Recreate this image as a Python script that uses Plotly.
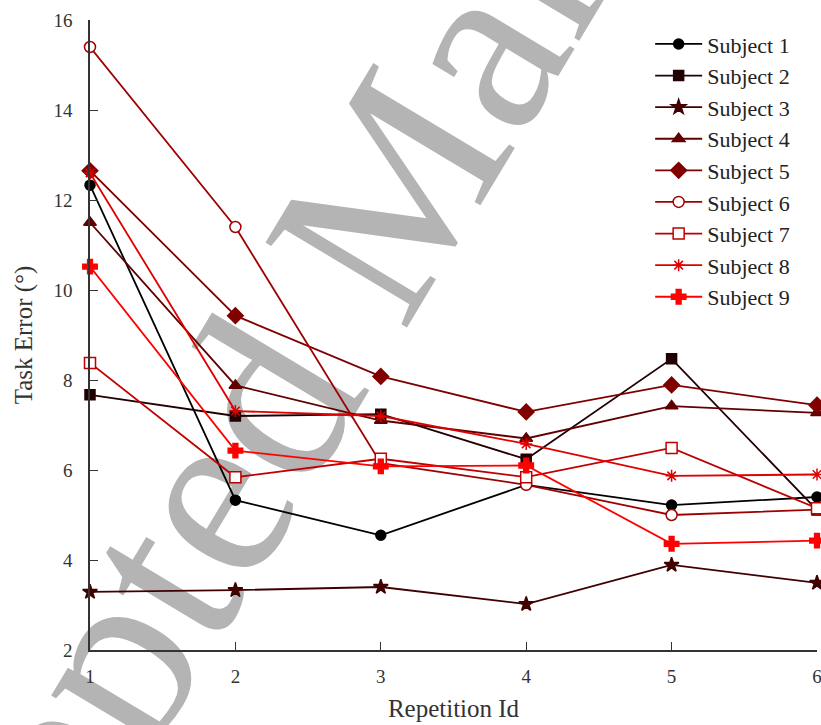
import plotly.graph_objects as go

repetitions = [1, 2, 3, 4, 5, 6]
subjects = ["Subject 1", "Subject 2", "Subject 3", "Subject 4", "Subject 5",
            "Subject 6", "Subject 7", "Subject 8", "Subject 9"]
s1 = [12.33, 5.33, 4.55, 5.67, 5.22, 5.40]
s2 = [7.67, 7.20, 7.24, 6.24, 8.47, 5.11]
s3 = [3.29, 3.33, 3.40, 3.02, 3.89, 3.49]
s4 = [11.50, 7.88, 7.10, 6.70, 7.42, 7.27]
s5 = [12.65, 9.43, 8.08, 7.29, 7.89, 7.44]
s6 = [15.40, 11.40, 6.15, 5.67, 5.00, 5.12]
s7 = [8.38, 5.84, 6.25, 5.84, 6.49, 5.15]
s8 = [12.60, 7.31, 7.20, 6.58, 5.87, 5.90]
s9 = [10.52, 6.43, 6.08, 6.10, 4.36, 4.43]
values = [s1, s2, s3, s4, s5, s6, s7, s8, s9]

colors = ["#000000", "#200000", "#400000", "#600000", "#800000",
          "#9f0000", "#bf0000", "#df0000", "#ff0000"]
symbols = ["circle", "square", "star", "triangle-up", "diamond",
           "circle", "square", "asterisk-open", "cross"]
fills = [None, None, None, None, None, "white", "white", None, None]
sizes = [10, 10, 11, 11, 12, 11, 11, 10, 12]

watermark_text = "Accepted Manuscript"

fig = go.Figure()

# watermark drawn as the text of an invisible bar so it sits beneath the data lines
fig.add_trace(go.Bar(
    x=[2.89], y=[1.0], base=[10.77], width=[0.2],
    text=[watermark_text], textposition="inside", insidetextanchor="middle",
    textangle=-59, constraintext="none", cliponaxis=False,
    textfont=dict(family="Liberation Serif", size=252, color="#b4b4b4"),
    marker=dict(color="rgba(0,0,0,0)", line=dict(width=0)),
    showlegend=False, hoverinfo="skip",
))

for i, name in enumerate(subjects):
    c = colors[i]
    fc = fills[i] if fills[i] else c
    fig.add_trace(go.Scatter(
        x=repetitions, y=values[i], name=name, mode="lines+markers",
        legendgroup=name, cliponaxis=False,
        line=dict(color=c, width=1.8),
        marker=dict(symbol=symbols[i], size=sizes[i], color=fc,
                    line=dict(color=c, width=1.5)),
    ))

font_family = "Liberation Serif"
fig.update_layout(
    width=821, height=725,
    margin=dict(l=90, r=4, t=20, b=75),
    paper_bgcolor="white", plot_bgcolor="white",
    font=dict(family=font_family, color="#333333", size=19),
    showlegend=True,
    legend=dict(x=0.7705, y=0.995, xanchor="left", yanchor="top",
                bgcolor="white", borderwidth=0,
                font=dict(family=font_family, size=22, color="#222222"),
                tracegroupgap=0, itemwidth=47),
    xaxis=dict(range=[1, 6], tickvals=repetitions, ticks="inside", ticklen=8,
               tickcolor="#333333", showline=True, linecolor="#333333",
               linewidth=1.5, showgrid=False, zeroline=False, automargin=False,
               ticklabelstandoff=8, ticklabeloverflow="allow",
               title=dict(text="Repetition Id", font=dict(size=25, color="#333333"),
                          standoff=14)),
    yaxis=dict(range=[2, 16], tickvals=[2, 4, 6, 8, 10, 12, 14, 16],
               ticks="inside", ticklen=8, tickcolor="#333333",
               showline=True, linecolor="#333333", linewidth=1.5, automargin=False,
               showgrid=False, zeroline=False, ticklabelstandoff=12,
               title=dict(text="Task Error (°)", font=dict(size=25, color="#333333"),
                          standoff=14)),
)

fig.write_html("out.html")
